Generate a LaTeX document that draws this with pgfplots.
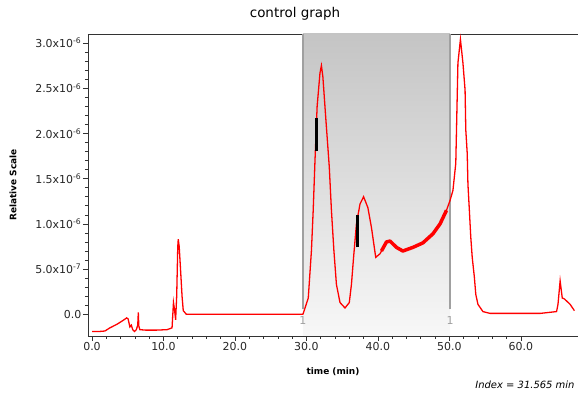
\documentclass[border=0pt]{standalone}
\usepackage{fontspec}
\setmainfont{DejaVu Sans}
\usepackage{pgfplots}
\pgfplotsset{compat=1.18}
\definecolor{bandgray}{RGB}{160,160,160}
\begin{document}
\begin{tikzpicture}
\useasboundingbox (-88bp,-60bp) rectangle (490bp,336bp);
\begin{axis}[
  at={(0,0)}, anchor=south west,
  scale only axis, width=490bp, height=302bp,
  xmin=-0.56, xmax=68, ymin=-0.24, ymax=3.1,
  axis x line=box, axis y line=left,
  axis line style={-, line width=0.8pt, black!80},
  xtick pos=bottom, ytick pos=left,
  tick align=outside,
  major tick length=5bp, minor tick length=3bp,
  tick style={black!80, line width=0.6pt},
  xtick={0,10,20,30,40,50,60},
  xticklabels={0.0,10.0,20.0,30.0,40.0,50.0,60.0},
  minor x tick num=4,
  ytick={0,0.5,1,1.5,2,2.5,3},
  yticklabels={0.0,5.0x10\textsuperscript{-7},1.0x10\textsuperscript{-6},1.5x10\textsuperscript{-6},2.0x10\textsuperscript{-6},2.5x10\textsuperscript{-6},3.0x10\textsuperscript{-6}},
  minor y tick num=4,
  ticklabel style={font=\fontsize{11}{12}\selectfont, inner sep=1.5bp, text=black!85},
  xlabel={time (min)},
  xlabel style={at={(axis description cs:0.5,-0.119)}, anchor=center, font=\fontsize{9}{10}\selectfont\bfseries},
  ylabel={Relative Scale},
  ylabel style={at={(axis description cs:-0.153,0.5)}, anchor=center, font=\fontsize{9}{10}\selectfont\bfseries},
  clip=false,
]
% shaded integration region
\addplot[draw=none, top color=black!23, bottom color=black!3] coordinates {(29.5,-0.24)(29.5,3.1)(50.1,3.1)(50.1,-0.24)} -- cycle;
\addplot[bandgray, line width=1.5pt] coordinates {(29.5,0.055)(29.5,3.1)};
\addplot[bandgray, line width=1.5pt] coordinates {(50.1,0.055)(50.1,3.1)};
\node[text=bandgray, font=\fontsize{11}{12}\selectfont] at (axis cs:29.5,-0.07) {1};
\node[text=bandgray, font=\fontsize{11}{12}\selectfont] at (axis cs:50.1,-0.07) {1};
% trace
\addplot[red, line width=1.3pt] coordinates {
(0.0,-0.19)(1.0,-0.19)(1.8,-0.185)(2.5,-0.15)(3.5,-0.11)(4.3,-0.07)(4.85,-0.04)(5.05,-0.05)(5.3,-0.14)(5.5,-0.12)(5.7,-0.17)(5.95,-0.19)(6.2,-0.17)(6.4,-0.12)(6.48,0.02)(6.55,-0.13)(6.7,-0.17)(7.5,-0.175)(9,-0.175)(10.5,-0.17)(11.2,-0.15)(11.4,0.13)(11.55,0.05)(11.7,-0.06)(11.85,0.2)(12.0,0.75)(12.07,0.83)(12.2,0.75)(12.4,0.48)(12.6,0.2)(12.77,0.04)(13.2,0.0)(20,0.0)(29.5,0.0)(29.6,0.02)(30.26,0.18)(30.7,0.70)(30.95,1.15)(31.2,1.70)(31.5,2.30)(31.9,2.67)(32.1,2.75)(32.3,2.63)(32.7,2.18)(33.2,1.63)(33.5,1.15)(33.85,0.70)(34.2,0.33)(34.7,0.13)(35.4,0.07)(36.0,0.13)(36.3,0.33)(36.6,0.63)(37.0,1.0)(37.5,1.22)(38.0,1.30)(38.6,1.18)(39.1,0.96)(39.7,0.63)(40.3,0.67)(41.2,0.80)(41.7,0.81)(42.6,0.74)(43.5,0.70)(44.9,0.74)(46.3,0.79)(47.7,0.89)(48.7,1.0)(49.6,1.15)(50.1,1.26)(50.5,1.37)(50.9,1.67)(51.0,2.04)(51.1,2.41)(51.2,2.78)(51.55,3.04)(51.9,2.78)(52.2,2.48)(52.3,2.04)(52.5,1.78)(52.6,1.44)(52.8,1.15)(52.9,1.0)(53.0,0.85)(53.2,0.63)(53.5,0.41)(53.7,0.22)(54.0,0.11)(54.7,0.03)(55.7,0.01)(62.7,0.01)(65.0,0.03)(65.2,0.11)(65.5,0.37)(65.8,0.18)(66.1,0.17)(66.9,0.11)(67.5,0.04)
};
% noisy band
\addplot[red, line width=3.5pt, line join=round] coordinates {
(40.5,0.70)(41.2,0.80)(41.7,0.81)(42.6,0.74)(43.5,0.70)(44.9,0.74)(46.3,0.79)(47.7,0.89)(48.7,1.0)(49.6,1.15)
};
% black markers
\addplot[black, line width=2.6pt] coordinates {(31.42,1.81)(31.42,2.17)};
\addplot[black, line width=2.6pt] coordinates {(37.13,0.74)(37.13,1.10)};
\end{axis}
\node[font=\fontsize{13.5}{15}\selectfont] at (207bp,322bp) {control graph};
\node[anchor=east, font=\fontsize{10}{11}\selectfont\itshape] at (490bp,-49bp) {Index = 31.565 min};
\end{tikzpicture}
\end{document}
